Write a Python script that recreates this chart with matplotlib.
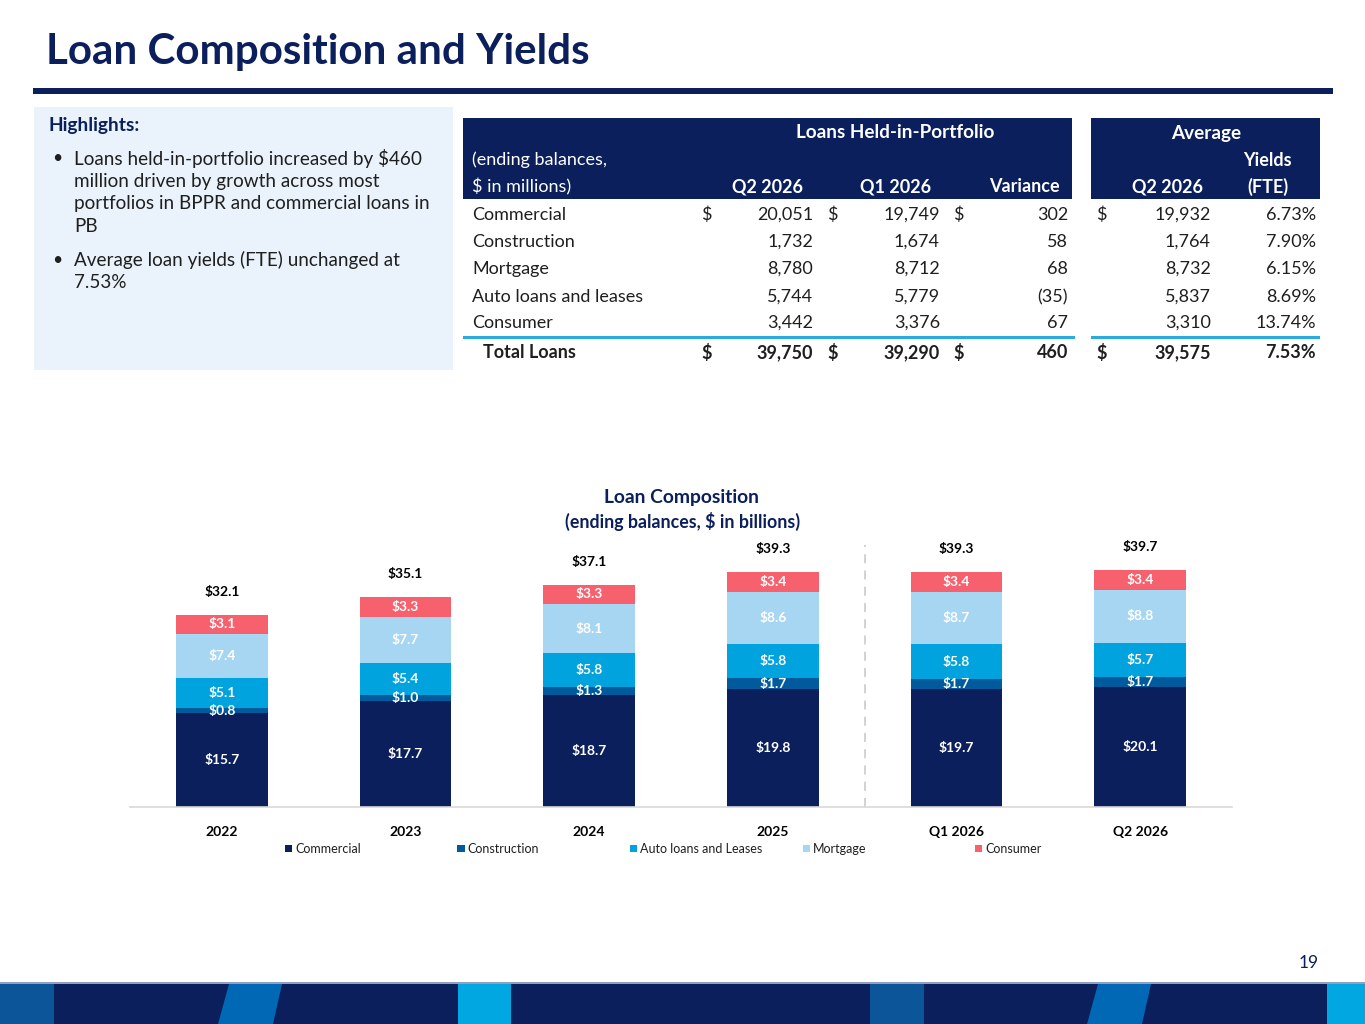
import matplotlib
matplotlib.use("Agg")
import matplotlib.pyplot as plt
from matplotlib.patches import Rectangle, Polygon
import numpy as np

W, H = 1365, 1024
NAVY = "#0b1f5c"
TEXT = "#1f1f1f"

plt.rcParams["font.family"] = ["Lato", "DejaVu Sans"]

# chart data ($ in billions)
periods = ["2022", "2023", "2024", "2025", "Q1 2026", "Q2 2026"]
commercial = [15.7, 17.7, 18.7, 19.8, 19.7, 20.1]
construction = [0.8, 1.0, 1.3, 1.7, 1.7, 1.7]
auto = [5.1, 5.4, 5.8, 5.8, 5.8, 5.7]
mortgage = [7.4, 7.7, 8.1, 8.6, 8.7, 8.8]
consumer = [3.1, 3.3, 3.3, 3.4, 3.4, 3.4]
totals = [32.1, 35.1, 37.1, 39.3, 39.3, 39.7]

series_names = ["Commercial", "Construction", "Auto loans and Leases", "Mortgage", "Consumer"]
series_colors = ["#0b1f5c", "#005a9c", "#00a3dd", "#a7d6f3", "#f7606d"]

# table data ($ in millions)
row_labels = ["Commercial", "Construction", "Mortgage", "Auto loans and leases", "Consumer"]
q2_2026 = [20051, 1732, 8780, 5744, 3442]
q1_2026 = [19749, 1674, 8712, 5779, 3376]
variance = [302, 58, 68, -35, 67]
avg_q2_2026 = [19932, 1764, 8732, 5837, 3310]
yields_fte = [6.73, 7.90, 6.15, 8.69, 13.74]
total_row = [39750, 39290, 460, 39575, 7.53]

highlights = [
    ["Loans held-in-portfolio increased by $460",
     "million driven by growth across most",
     "portfolios in BPPR and commercial loans in",
     "PB"],
    ["Average loan yields (FTE) unchanged at",
     "7.53%"],
]


def fx(x):
    return x / W


def fy(y):
    return 1 - y / H


def money(v):
    return f"({abs(v):,})" if v < 0 else f"{v:,}"


def rect(fig, x0, y0, x1, y1, color, z=0):
    fig.add_artist(Rectangle((fx(x0), fy(y1)), fx(x1) - fx(x0), fy(y0) - fy(y1),
                             transform=fig.transFigure, facecolor=color,
                             edgecolor="none", zorder=z))


fig = plt.figure(figsize=(W / 100, H / 100), dpi=100)

# title and rule
fig.text(fx(46), fy(52), "Loan Composition and Yields", fontsize=30.3, fontweight="bold",
         color=NAVY, va="center", ha="left")
rect(fig, 33, 88, 1333, 94, NAVY)

# highlights box
rect(fig, 34, 107, 453, 370, "#eaf3fc")
fig.text(fx(48), fy(126), "Highlights:", fontsize=13.8, fontweight="bold", color=NAVY, va="center")
y = 158
for item in highlights:
    fig.text(fx(52), fy(y), "\u2022", fontsize=12.5, color=TEXT, va="center")
    for line in item:
        fig.text(fx(74), fy(y), line, fontsize=13.6, color=TEXT, va="center")
        y += 23
    y += 10

# table header bands
rect(fig, 463, 118, 1072, 199, NAVY)
rect(fig, 1091, 118, 1320, 199, NAVY)
hk = dict(color="white", va="center", fontsize=13)
fig.text(fx(895), fy(132), "Loans Held-in-Portfolio", ha="center", fontweight="bold", fontsize=13.6,
         color="white", va="center")
fig.text(fx(1206), fy(133), "Average", ha="center", fontweight="bold", fontsize=13.6,
         color="white", va="center")
fig.text(fx(472), fy(160), "(ending balances,", ha="left", **hk)
fig.text(fx(472), fy(187), "$ in millions)", ha="left", **hk)
fig.text(fx(1292), fy(160), "Yields", ha="right", fontweight="bold", **hk)
for xr, lab in [(803, "Q2 2026"), (931, "Q1 2026"), (1060, "Variance"), (1203, "Q2 2026"), (1289, "(FTE)")]:
    fig.text(fx(xr), fy(187), lab, ha="right", fontweight="bold", **hk)

# table body
tk = dict(color=TEXT, va="center", fontsize=13)
row_y = [215, 242, 269, 297, 323]
for i, yy in enumerate(row_y):
    fig.text(fx(472), fy(yy), row_labels[i], ha="left", **tk)
    fig.text(fx(813), fy(yy), money(q2_2026[i]), ha="right", **tk)
    fig.text(fx(940), fy(yy), money(q1_2026[i]), ha="right", **tk)
    fig.text(fx(1068), fy(yy), money(variance[i]), ha="right", **tk)
    fig.text(fx(1211), fy(yy), money(avg_q2_2026[i]), ha="right", **tk)
    fig.text(fx(1316), fy(yy), f"{yields_fte[i]:.2f}%", ha="right", **tk)
    if i == 0:
        for xd in (701, 827, 953, 1096):
            fig.text(fx(xd), fy(yy), "$", ha="left", **tk)

rect(fig, 463, 336, 1075, 339, "#29aae1")
rect(fig, 1091, 336, 1320, 339, "#29aae1")

tb = dict(tk, fontweight="bold")
ty = 353
fig.text(fx(483), fy(ty), "Total Loans", ha="left", **tb)
for xd in (701, 827, 953, 1096):
    fig.text(fx(xd), fy(ty), "$", ha="left", **tb)
fig.text(fx(813), fy(ty), money(total_row[0]), ha="right", **tb)
fig.text(fx(940), fy(ty), money(total_row[1]), ha="right", **tb)
fig.text(fx(1068), fy(ty), money(total_row[2]), ha="right", **tb)
fig.text(fx(1211), fy(ty), money(total_row[3]), ha="right", **tb)
fig.text(fx(1316), fy(ty), f"{total_row[4]:.2f}%", ha="right", **tb)

# stacked bar chart
ax = fig.add_axes([fx(130), fy(807), fx(1232) - fx(130), fy(538) - fy(807)])
x = np.arange(len(periods))
bottom = np.zeros(len(periods))
for name, vals, col in zip(series_names, [commercial, construction, auto, mortgage, consumer], series_colors):
    vals = np.array(vals)
    ax.bar(x, vals, 0.5, bottom=bottom, color=col, label=name, zorder=2)
    for xi, v, b in zip(x, vals, bottom):
        ax.text(xi, b + v / 2, f"${v:.1f}", ha="center", va="center", color="white",
                fontsize=10, fontweight="bold", zorder=3)
    bottom += vals

for xi, b, t in zip(x, bottom, totals):
    ax.annotate(f"${t:.1f}", (xi, b), xytext=(0, 16.5), textcoords="offset points",
                ha="center", va="center", fontsize=10, fontweight="bold", color="black")

ax.axvline(3.5, ymin=0, ymax=43.8 / 45, color="#cfcfcf", lw=1.3, ls=(0, (5, 4)), zorder=1)
ax.set_xlim(-0.5, len(periods) - 0.5)
ax.set_ylim(0, 45)
ax.set_yticks([])
ax.set_xticks(x)
ax.set_xticklabels(periods, fontsize=10, fontweight="bold", color="black")
ax.tick_params(axis="x", length=0, pad=14)
for s in ("left", "right", "top"):
    ax.spines[s].set_visible(False)
ax.spines["bottom"].set_color("#d9d9d9")
ax.spines["bottom"].set_linewidth(1.2)
ax.set_facecolor("none")

fig.text(fx(681), fy(497), "Loan Composition", ha="center", va="center", fontsize=13.9,
         fontweight="bold", color=NAVY)
fig.text(fx(683), fy(521), "(ending balances, $ in billions)", ha="center", va="center",
         fontsize=12.8, fontweight="bold", color=NAVY)

# legend, equal slots like the original
for i, (name, col) in enumerate(zip(series_names, series_colors)):
    lx = 285 + i * 172.5
    rect(fig, lx, 845, lx + 7, 852, col, z=3)
    fig.text(fx(lx + 10), fy(849), name, ha="left", va="center", fontsize=9, color=TEXT)

# page number and footer banner
fig.text(fx(1309), fy(963), "19", ha="center", va="center", fontsize=12.5, color=NAVY)
rect(fig, 0, 982, W, 984, "#8fa0c2")
rect(fig, 0, 984, W, H, "#0b1f5c")
rect(fig, 0, 984, 54, H, "#0d5599", z=1)
rect(fig, 458, 984, 511, H, "#00a7e0", z=1)
rect(fig, 870, 984, 924, H, "#0d5599", z=1)
rect(fig, 1327, 984, W, H, "#00a7e0", z=1)
for bl, br, tl, tr in [(218, 273, 229, 282), (1087, 1142, 1098, 1151)]:
    fig.add_artist(Polygon([(fx(bl), fy(H)), (fx(br), fy(H)), (fx(tr), fy(984)), (fx(tl), fy(984))],
                           closed=True, transform=fig.transFigure, facecolor="#0068b5",
                           edgecolor="none", zorder=1))

fig.savefig("out.png", dpi=100)
